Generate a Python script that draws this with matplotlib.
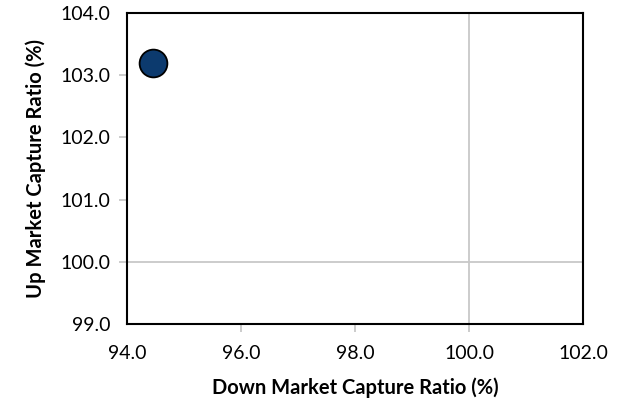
import matplotlib.pyplot as plt

down_capture = [94.45]
up_capture = [103.19]
x_ticks = [94.0, 96.0, 98.0, 100.0, 102.0]
y_ticks = [99.0, 100.0, 101.0, 102.0, 103.0, 104.0]

plt.rcParams['font.family'] = ['Lato', 'DejaVu Sans']

fig = plt.figure(figsize=(6.25, 4.04), dpi=100)
ax = fig.add_axes([0.2032, 0.198, 0.7296, 0.7698])

ax.axvline(100, color="#c8c8c8", lw=1.3, zorder=1)
ax.axhline(100, color="#c8c8c8", lw=1.3, zorder=1)

ax.scatter(down_capture, up_capture, s=400, color="#0c3a6e", edgecolor="black",
           linewidth=1.3, zorder=3, clip_on=False)

ax.set_xlim(94, 102)
ax.set_ylim(99, 104)
ax.set_xticks(x_ticks)
ax.set_yticks(y_ticks)
ax.set_xticklabels([f"{v:.1f}" for v in x_ticks])
ax.set_yticklabels([f"{v:.1f}" for v in y_ticks])
ax.tick_params(axis="both", direction="out", length=6, width=1.3, color="#c8c8c8",
               labelsize=14)
ax.tick_params(axis="x", pad=9)
ax.tick_params(axis="y", pad=6)
for t in [ax.xaxis.get_major_ticks()[0], ax.xaxis.get_major_ticks()[-1],
          ax.yaxis.get_major_ticks()[0], ax.yaxis.get_major_ticks()[-1]]:
    t.tick1line.set_visible(False)

for s in ax.spines.values():
    s.set_linewidth(1.5)
    s.set_color("black")

ax.set_xlabel("Down Market Capture Ratio (%)", fontsize=14.5, fontweight="bold", labelpad=11)
ax.set_ylabel("Up Market Capture Ratio (%)", fontsize=14.5, fontweight="bold", labelpad=10)

fig.savefig("out.png", dpi=100)
